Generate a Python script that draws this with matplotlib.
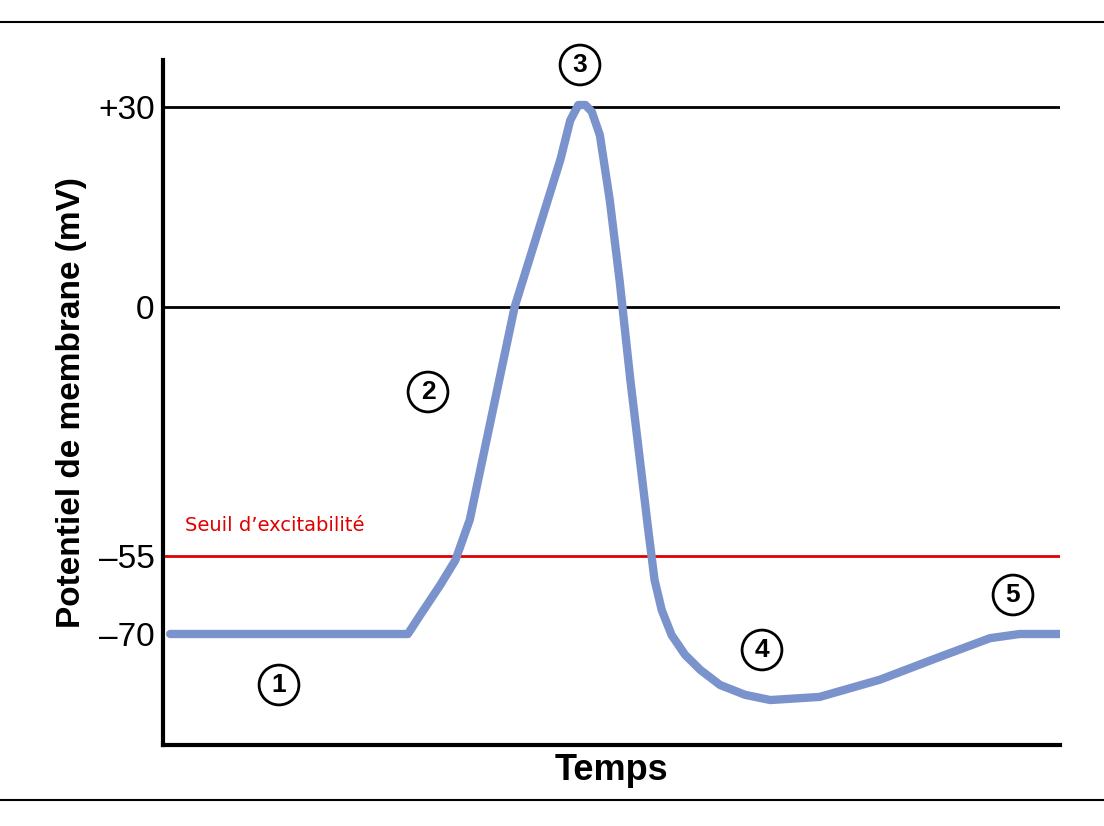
import numpy as np
import matplotlib
matplotlib.use("Agg")
import matplotlib.pyplot as plt

plt.rcParams['font.family'] = ['Liberation Sans', 'DejaVu Sans']

# Data (time arbitrary units, membrane potential mV)
t = [0.8, 27.3, 28.7, 30.9, 32.6, 34.2, 39.2, 44.3, 45.4, 46.3, 47.1, 47.8, 48.7, 49.8, 50.9, 52.1, 54.1, 54.8, 55.6, 56.7, 58.2, 59.9, 62.1, 64.9, 67.7, 73.2, 79.9, 86.6, 92.2, 95.5, 100]
v = [-70, -70, -66.3, -60.6, -55.8, -47.0, 0, 22.1, 28.0, 30.3, 30.3, 29.3, 25.8, 16.1, 4.0, -16.1, -49.3, -59.6, -65.4, -70.2, -74.0, -76.9, -79.8, -81.7, -82.7, -82.1, -78.8, -74.4, -70.8, -70, -70]
tick_vals = [30, 0, -55, -70]
tick_labels = ["+30", "0", "\u201355", "\u201370"]
labels = ["1", "2", "3", "4", "5"]
label_px = [(279, 685), (428, 392), (580, 65), (762, 650), (1013, 595)]

# schematic (piecewise) y axis
anch_v = np.array([-120, -70, -55, 0, 30, 80])
anch_p = np.array([-634 - 50 * 5.2, -634, -556, -307, -107, -107 + 50 * 6.667])
fwd = lambda x: np.interp(x, anch_v, anch_p)
inv = lambda p: np.interp(p, anch_p, anch_v)

fig = plt.figure(figsize=(11.04, 8.26), dpi=100)
ax = fig.add_axes([163/1104, 1-745/826, 897/1104, 685/826])
ax.set_yscale('function', functions=(fwd, inv))
ax.set_xlim(0, 100)
ax.set_ylim(inv(-745), inv(-60))

for val, c in [(30, 'black'), (0, 'black'), (-55, '#e00000')]:
    ax.axhline(val, color=c, lw=2, zorder=1)
ax.plot(t, v, color='#7b93cc', lw=6, solid_joinstyle='round', solid_capstyle='round', zorder=2)

ax.set_yticks(tick_vals)
ax.set_yticklabels(tick_labels, fontsize=24)
ax.yaxis.set_minor_locator(matplotlib.ticker.NullLocator())
ax.tick_params(axis='y', length=0, pad=6)
ax.set_xticks([])
for s in ['top', 'right']:
    ax.spines[s].set_visible(False)
for s in ['left', 'bottom']:
    ax.spines[s].set_linewidth(3)
ax.set_ylabel("Potentiel de membrane (mV)", fontsize=24, fontweight='bold', labelpad=8)
ax.set_xlabel("Temps", fontsize=26, fontweight='bold', labelpad=6)

ax.text(2.5, -49.5, "Seuil d\u2019excitabilit\u00e9", color='#e00000', fontsize=14, family='DejaVu Sans')

for lab, (px, py) in zip(labels, label_px):
    fig.text(px/1104, 1-py/826, lab, fontsize=19, fontweight='bold', ha='center', va='center',
             bbox=dict(boxstyle='circle,pad=0.3', fc='white', ec='black', lw=2))

fig.add_artist(plt.Line2D([0, 1], [1-22/826, 1-22/826], color='black', lw=1.5))
fig.add_artist(plt.Line2D([0, 1], [1-800/826, 1-800/826], color='black', lw=1.5))

fig.savefig("out.png", dpi=100)
